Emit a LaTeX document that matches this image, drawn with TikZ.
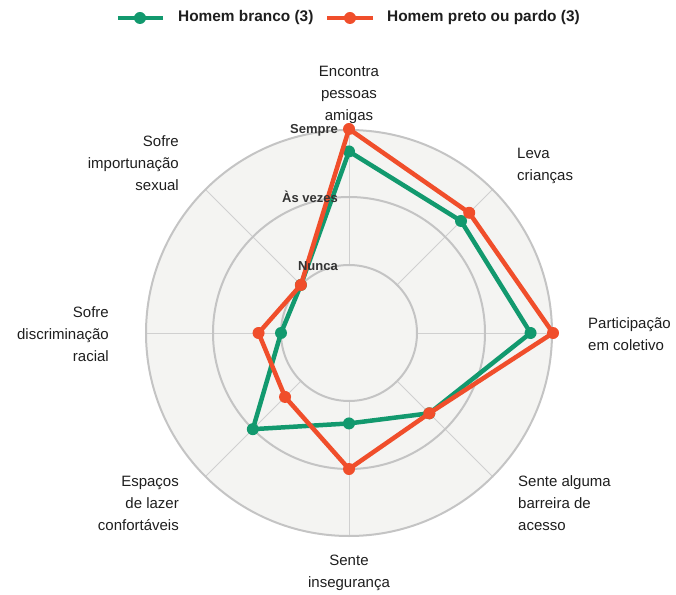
\documentclass[tikz,border=0pt]{standalone}
\usepackage{fontspec}
\setmainfont{Liberation Sans}
\definecolor{branco}{HTML}{12996E}
\definecolor{preto}{HTML}{F04E2B}
\definecolor{disco}{HTML}{F4F4F2}
\definecolor{anel}{HTML}{C4C4C4}
\definecolor{raio}{HTML}{D0D0D0}
\definecolor{texto}{HTML}{1E1E1E}
\definecolor{cinza}{HTML}{333333}
\begin{document}
\begin{tikzpicture}[x=1pt,y=1pt,
  rotulo/.style={text=texto,inner sep=0pt,font=\fontsize{15}{22}\selectfont},
  escala/.style={text=cinza,inner sep=0pt,anchor=east,font=\fontsize{13}{16}\selectfont\bfseries},
  legenda/.style={text=texto,inner sep=0pt,anchor=west,font=\fontsize{15.4}{18}\selectfont\bfseries},
  serie/.style={line width=4.5pt,line join=round}]
  \useasboundingbox (-349,333) rectangle (327,-261);
  % disc, rings, spokes
  \fill[disco] (0,0) circle (203);
  \foreach \a in {0,45,...,315}
    \draw[raio,line width=1pt] (\a:68) -- (\a:203);
  \foreach \r in {68,136,203}
    \draw[anel,line width=2pt] (0,0) circle (\r);
  % axis labels
  \node[rotulo,align=center]            (enc)  at (0,238)     {Encontra\\pessoas\\amigas};
  \node[rotulo,align=left,anchor=west]  (leva) at (168,167)   {Leva\\crianças};
  \node[rotulo,align=left,anchor=west]  (part) at (239,-1)    {Participação\\em coletivo};
  \node[rotulo,align=left,anchor=west]  (barr) at (169,-170)  {Sente alguma\\barreira de\\acesso};
  \node[rotulo,align=center]            (ins)  at (0,-240)    {Sente\\insegurança};
  \node[rotulo,align=right,anchor=east] (esp)  at (-170,-170) {Espaços\\de lazer\\confortáveis};
  \node[rotulo,align=right,anchor=east] (disc) at (-240,-1)   {Sofre\\discriminação\\racial};
  \node[rotulo,align=right,anchor=east] (imp)  at (-170,170)  {Sofre\\importunação\\sexual};
  % data points, clockwise from the top
  \foreach \v [count=\i from 0] in {2.67,2.33,2.67,1.67,1.33,2.0,1.0,1.0}
    \coordinate (b\i) at ({90-45*\i}:{\v*68});
  \foreach \v [count=\i from 0] in {3.0,2.5,3.0,1.67,2.0,1.33,1.33,1.0}
    \coordinate (p\i) at ({90-45*\i}:{\v*68});
  \draw[serie,branco] (b0) -- (b1) -- (b2) -- (b3) -- (b4) -- (b5) -- (b6) -- (b7) -- cycle;
  \foreach \i in {0,...,7}
    \fill[branco] (b\i) circle (6);
  \draw[serie,preto] (p0) -- (p1) -- (p2) -- (p3) -- (p4) -- (p5) -- (p6) -- (p7) -- cycle;
  \foreach \i in {0,...,7}
    \fill[preto] (p\i) circle (6);
  % scale labels on the vertical axis
  \node[escala] (nunca)  at (-11,67)  {Nunca};
  \node[escala] (vezes)  at (-11,136) {Às vezes};
  \node[escala] (sempre) at (-11,203) {Sempre};
  % legend
  \coordinate (lb1) at (-231,315);
  \coordinate (lb2) at (-186,315);
  \draw[serie,branco] (lb1) -- (lb2);
  \fill[branco] (-209,315) circle (6);
  \node[legenda] (lbranco) at (-171,315) {Homem branco (3)};
  \coordinate (lp1) at (-22,315);
  \coordinate (lp2) at (24,315);
  \draw[serie,preto] (lp1) -- (lp2);
  \fill[preto] (1,315) circle (6);
  \node[legenda] (lpreto) at (38,315) {Homem preto ou pardo (3)};
\end{tikzpicture}
\end{document}
